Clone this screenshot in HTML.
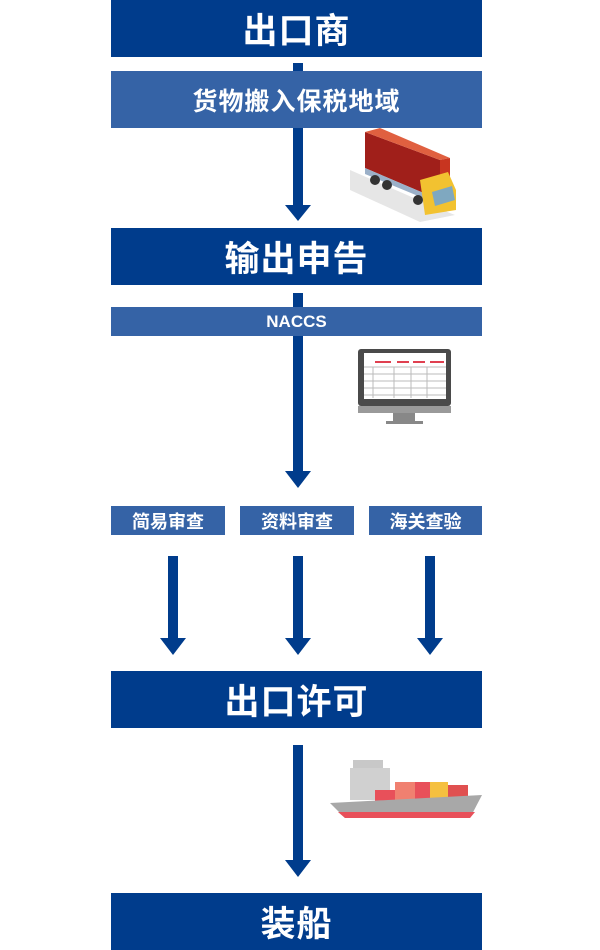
<!DOCTYPE html>
<html><head><meta charset="utf-8"><style>
body{margin:0;width:600px;height:950px;background:#fff;position:relative;overflow:hidden;font-family:"Liberation Sans","Noto Sans CJK SC",sans-serif}
.b{position:absolute;color:#fff;display:flex;align-items:center;justify-content:center;font-weight:bold}
.d{background:#003c8c;left:111px;width:371px;height:57px;font-size:35px;letter-spacing:1px}
.l{background:#3563a6}
</style></head><body>
<div class="b d" style="top:0">出口商</div>
<div class="b l" style="left:111px;width:371px;top:71px;height:57px;font-size:25px;letter-spacing:1px">货物搬入保税地域</div>
<div class="b d" style="top:228px">输出申告</div>
<div class="b l" style="left:111px;width:371px;top:307px;height:29px;font-size:17px">NACCS</div>
<div class="b l" style="left:111px;width:114px;top:506px;height:29px;font-size:18px">简易审查</div>
<div class="b l" style="left:240px;width:114px;top:506px;height:29px;font-size:18px">资料审查</div>
<div class="b l" style="left:369px;width:113px;top:506px;height:29px;font-size:18px">海关查验</div>
<div class="b d" style="top:671px">出口许可</div>
<div class="b d" style="top:893px">装船</div>
<svg width="600" height="950" style="position:absolute;left:0;top:0">
<g fill="#003c8c">
<rect x="293" y="63" width="10" height="8"/>
<rect x="293" y="128" width="10" height="80"/><polygon points="285,205 311,205 298,221"/>
<rect x="293" y="293" width="10" height="14"/>
<rect x="293" y="336" width="10" height="136"/><polygon points="285,471 311,471 298,488"/>
<rect x="168" y="556" width="10" height="84"/><polygon points="160,638 186,638 173,655"/>
<rect x="293" y="556" width="10" height="84"/><polygon points="285,638 311,638 298,655"/>
<rect x="425" y="556" width="10" height="84"/><polygon points="417,638 443,638 430,655"/>
<rect x="293" y="745" width="10" height="116"/><polygon points="285,860 311,860 298,877"/>
</g>
<polygon points="350,170 430,205 455,215 420,222 350,190" fill="#e6e6e6"/>
<polygon points="365,132 440,160 440,200 365,168" fill="#a01f1a"/>
<polygon points="365,132 380,128 450,158 440,160" fill="#e06040"/>
<polygon points="440,160 450,158 450,195 440,200" fill="#c83520"/>
<polygon points="365,168 440,200 440,205 365,174" fill="#9bb0c8"/>
<polygon points="420,180 448,172 456,190 456,210 425,215" fill="#f2c230"/>
<polygon points="432,192 452,186 455,200 435,206" fill="#7fa8c0"/>
<circle cx="375" cy="180" r="5" fill="#333"/><circle cx="387" cy="185" r="5" fill="#333"/><circle cx="418" cy="200" r="5" fill="#333"/>
<rect x="358" y="349" width="93" height="57" rx="3" fill="#4a4a4a"/>
<rect x="364" y="353" width="82" height="46" fill="#fff"/>
<rect x="358" y="406" width="93" height="7" fill="#9a9a9a"/>
<rect x="393" y="413" width="22" height="8" fill="#888"/><rect x="386" y="421" width="37" height="3" fill="#888"/>
<g fill="#e04050"><rect x="375" y="361" width="16" height="2"/><rect x="397" y="361" width="12" height="2"/><rect x="413" y="361" width="12" height="2"/><rect x="430" y="361" width="14" height="2"/></g>
<g stroke="#bbb" stroke-width="1"><line x1="364" y1="367" x2="446" y2="367"/><line x1="364" y1="374" x2="446" y2="374"/><line x1="364" y1="381" x2="446" y2="381"/><line x1="364" y1="388" x2="446" y2="388"/><line x1="364" y1="395" x2="446" y2="395"/><line x1="373" y1="367" x2="373" y2="398"/><line x1="394" y1="367" x2="394" y2="398"/><line x1="411" y1="367" x2="411" y2="398"/><line x1="427" y1="367" x2="427" y2="398"/></g>
<rect x="350" y="768" width="40" height="32" fill="#d0d0d0"/><rect x="353" y="760" width="30" height="8" fill="#c8c8c8"/>
<rect x="375" y="790" width="20" height="15" fill="#e8505a"/><rect x="395" y="782" width="20" height="20" fill="#f08070"/>
<rect x="415" y="782" width="15" height="20" fill="#e8505a"/><rect x="430" y="782" width="18" height="18" fill="#f5c040"/>
<rect x="448" y="785" width="20" height="12" fill="#e05050"/>
<polygon points="330,803 482,795 470,818 345,818" fill="#a8a8a8"/>
<polygon points="338,812 475,812 470,818 345,818" fill="#e8505a"/>
</svg>
</body></html>
